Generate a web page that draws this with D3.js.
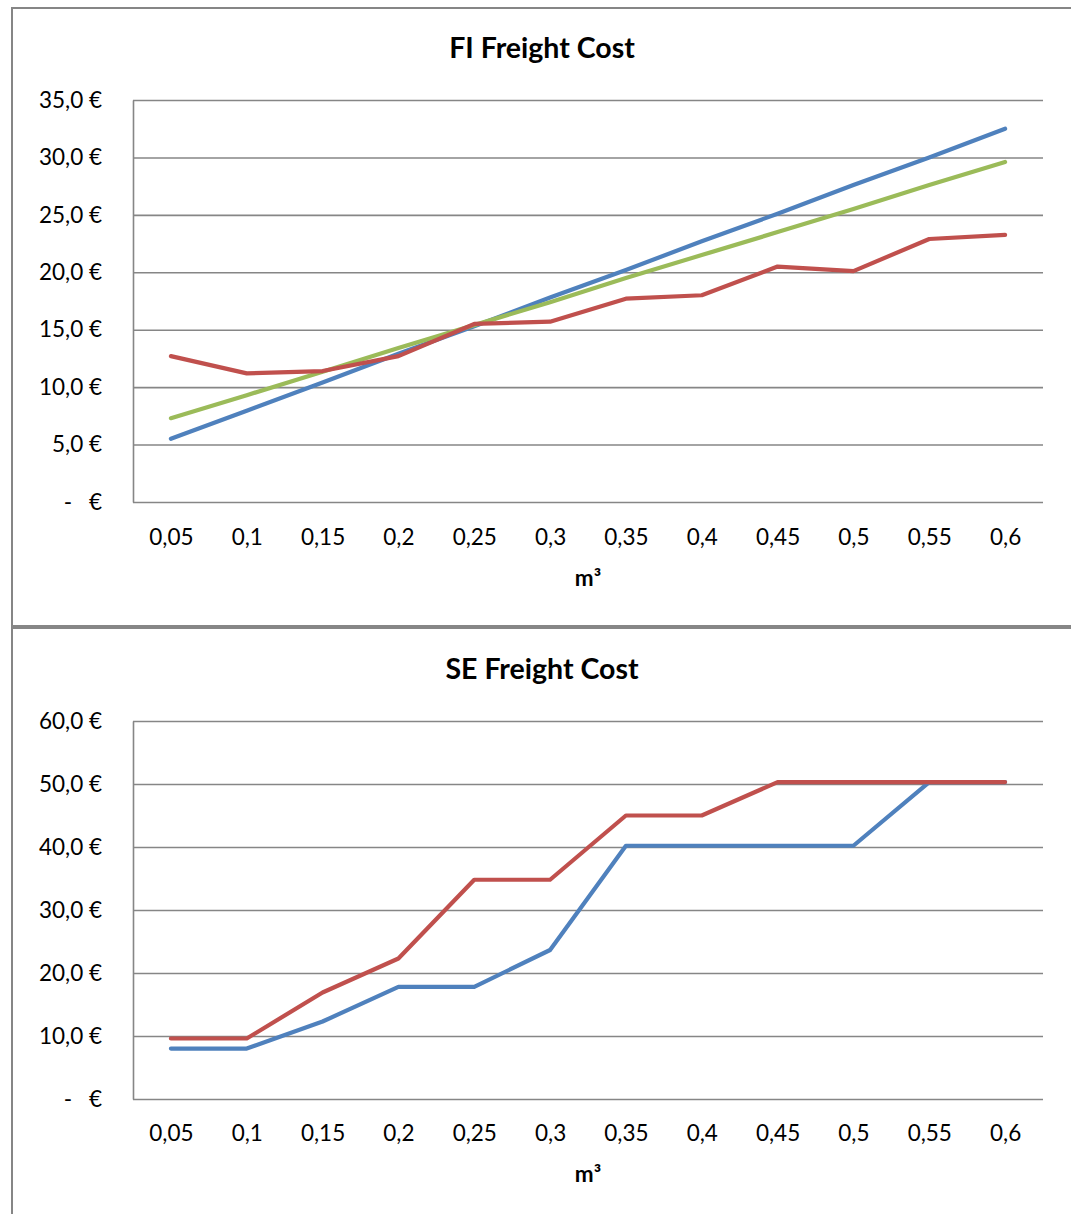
<!DOCTYPE html>
<html>
<head>
<meta charset="utf-8">
<script src="https://cdn.jsdelivr.net/npm/d3@7"></script>
<style>
  html, body { margin: 0; padding: 0; background: #ffffff; }
  svg { display: block; }
  text { font-family: Lato, "Open Sans", sans-serif; fill: #000; }
</style>
</head>
<body>
<svg id="chart" width="1071" height="1214"></svg>
<script>
// Shared x categories (volume in m³)
const categories = ["0,05", "0,1", "0,15", "0,2", "0,25", "0,3", "0,35", "0,4", "0,45", "0,5", "0,55", "0,6"];

// FI freight cost series (€)
const fiBlue  = [5.5, 7.95, 10.4, 12.9, 15.3, 17.8, 20.2, 22.7, 25.1, 27.6, 30.0, 32.5];
const fiGreen = [7.3, 9.3, 11.35, 13.4, 15.4, 17.4, 19.5, 21.5, 23.5, 25.5, 27.6, 29.6];
const fiRed   = [12.7, 11.2, 11.4, 12.7, 15.5, 15.7, 17.7, 18.0, 20.5, 20.1, 22.9, 23.25];
const fiTicks = [0, 5, 10, 15, 20, 25, 30, 35];

// SE freight cost series (€)
const seBlue = [8.0, 8.0, 12.3, 17.8, 17.8, 23.65, 40.2, 40.2, 40.2, 40.2, 50.3, 50.3];
const seRed  = [9.6, 9.6, 16.9, 22.3, 34.8, 34.8, 45.0, 45.0, 50.3, 50.3, 50.3, 50.3];
const seTicks = [0, 10, 20, 30, 40, 50, 60];

const COLORS = { blue: "#4F81BD", red: "#C0504D", green: "#9BBB59" };
const GRID = "#868686";
const LABEL_SIZE = "22.5px";

const svg = d3.select("#chart");

function euro(v) {
  return v === 0 ? "€" : d3.format(".1f")(v).replace(".", ",") + "\u00a0€";
}

function drawChart(cfg) {
  const g = svg.append("g");

  // chart frame
  g.append("rect")
    .attr("x", 12).attr("y", cfg.frameTop)
    .attr("width", 1071).attr("height", cfg.frameH)
    .attr("fill", "#fff").attr("stroke", GRID).attr("stroke-width", 2);

  const x = d3.scalePoint().domain(categories).range([133, 1043]).padding(0.5);
  const y = d3.scaleLinear().domain([0, d3.max(cfg.ticks)]).range([cfg.plotBottom, cfg.plotTop]);

  // horizontal gridlines + value labels
  const yAxis = g.append("g")
    .attr("transform", "translate(133,0)")
    .call(d3.axisLeft(y).tickValues(cfg.ticks).tickSize(-910).tickSizeOuter(0).tickPadding(31).tickFormat(euro));
  yAxis.selectAll(".tick line").attr("stroke", GRID).attr("stroke-width", 1.6);
  yAxis.select(".domain").attr("stroke", GRID).attr("stroke-width", 1.6);
  yAxis.selectAll(".tick text").style("font-size", LABEL_SIZE).style("font-family", "Lato, sans-serif");
  yAxis.selectAll(".tick").filter(d => d === 0)
    .append("text")
    .attr("x", -65).attr("dy", "0.32em")
    .attr("text-anchor", "middle")
    .attr("fill", "#000")
    .style("font-size", LABEL_SIZE)
    .text("-");

  // category labels
  const xAxis = g.append("g")
    .attr("transform", `translate(0,${cfg.plotBottom})`)
    .call(d3.axisBottom(x).tickSize(0).tickPadding(0));
  xAxis.select(".domain").remove();
  xAxis.selectAll(".tick text")
    .attr("y", cfg.xLabelOffset).attr("dy", "0.35em")
    .style("font-size", LABEL_SIZE).style("font-family", "Lato, sans-serif");

  // titles
  g.append("text")
    .attr("x", 542).attr("y", cfg.titleY).attr("dy", "0.35em")
    .attr("text-anchor", "middle")
    .style("font-size", "28.5px").style("font-weight", "bold")
    .text(cfg.title);

  g.append("text")
    .attr("x", 588).attr("y", cfg.xTitleY).attr("dy", "0.35em")
    .attr("text-anchor", "middle")
    .style("font-size", "22.5px").style("font-weight", "bold")
    .text("m³");

  // series lines
  const line = d3.line().x((d, i) => x(categories[i])).y(d => y(d));
  cfg.series.forEach(s => {
    g.append("path")
      .datum(s.values)
      .attr("d", line)
      .attr("fill", "none")
      .attr("stroke", s.color)
      .attr("stroke-width", 4.2)
      .attr("stroke-linejoin", "round")
      .attr("stroke-linecap", "round");
  });
}

drawChart({
  frameTop: 8, frameH: 618,
  plotTop: 100, plotBottom: 502,
  ticks: fiTicks,
  title: "FI Freight Cost", titleY: 48,
  xLabelOffset: 35, xTitleY: 578,
  series: [
    { values: fiBlue, color: COLORS.blue },
    { values: fiGreen, color: COLORS.green },
    { values: fiRed, color: COLORS.red }
  ]
});

drawChart({
  frameTop: 628, frameH: 700,
  plotTop: 721, plotBottom: 1099,
  ticks: seTicks,
  title: "SE Freight Cost", titleY: 669,
  xLabelOffset: 34, xTitleY: 1174,
  series: [
    { values: seBlue, color: COLORS.blue },
    { values: seRed, color: COLORS.red }
  ]
});
</script>
</body>
</html>
